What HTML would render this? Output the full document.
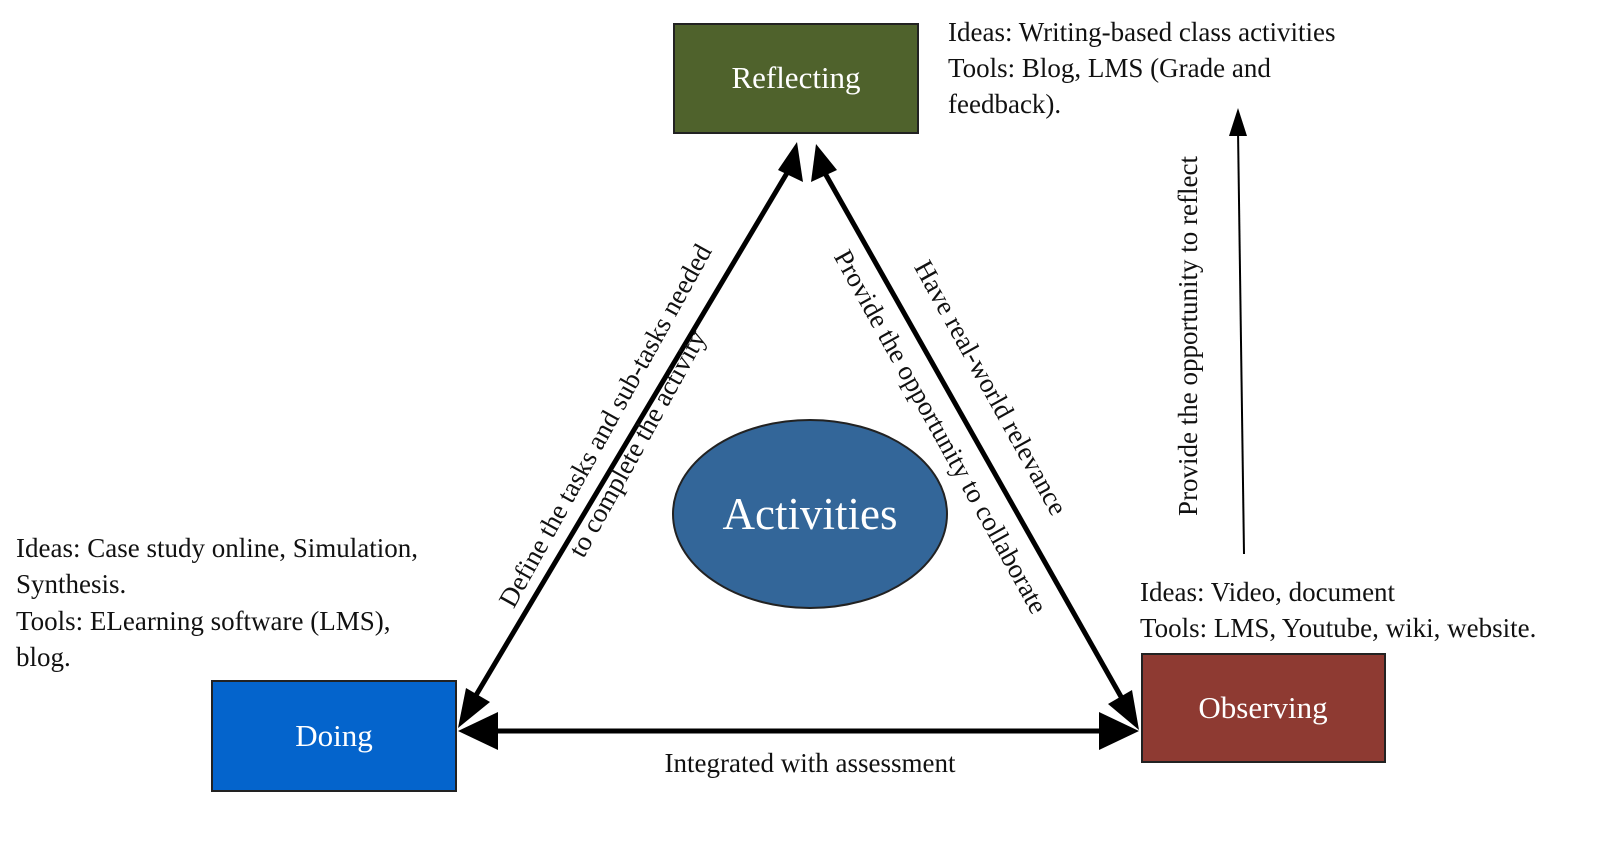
<!DOCTYPE html>
<html><head><meta charset="utf-8"><style>
html,body{margin:0;padding:0;background:#fff;}
svg{display:block;}
text{font-family:"Liberation Serif",serif;fill:#111;}
</style></head><body>
<svg width="1600" height="866" viewBox="0 0 1600 866" xmlns="http://www.w3.org/2000/svg">
<defs>
<marker id="big" markerWidth="10" markerHeight="10" refX="9" refY="5" orient="auto-start-reverse" markerUnits="userSpaceOnUse" viewBox="0 0 10 10">
<path d="M0,0 L10,5 L0,10 z" fill="#000"/></marker>
</defs>
<!-- boxes -->
<rect x="674" y="24" width="244" height="109" fill="#4f622c" stroke="#222" stroke-width="2"/>
<text x="796" y="88" font-size="31" text-anchor="middle" style="fill:#fff">Reflecting</text>
<rect x="212" y="681" width="244" height="110" fill="#0464cc" stroke="#222" stroke-width="2"/>
<text x="334" y="746" font-size="31" text-anchor="middle" style="fill:#fff">Doing</text>
<rect x="1142" y="654" width="243" height="108" fill="#8e3a32" stroke="#222" stroke-width="2"/>
<text x="1263" y="718" font-size="31" text-anchor="middle" style="fill:#fff">Observing</text>
<ellipse cx="810" cy="514" rx="137" ry="94" fill="#336699" stroke="#222" stroke-width="2"/>
<text x="810" y="529" font-size="45" text-anchor="middle" style="fill:#fff">Activities</text>
<!-- thick arrows -->
<g stroke="#000" stroke-width="5" fill="none">
<line x1="790" y1="168" x2="472" y2="702"/>
<line x1="822" y1="168" x2="1124" y2="702"/>
<line x1="490" y1="731" x2="1106" y2="731"/>
</g>
<g fill="#000">
<polygon points="797,142 803,182 778,170"/>
<polygon points="458,728 466,688 490,702"/>
<polygon points="816,144 837,170 811,182"/>
<polygon points="1139,730 1108,704 1132,690"/>
<polygon points="458,731 498,712 498,750"/>
<polygon points="1139,731 1099,712 1099,750"/>
</g>
<!-- thin arrow -->
<line x1="1244" y1="554" x2="1238" y2="130" stroke="#000" stroke-width="2"/>
<polygon points="1238,108 1229,136 1247,136" fill="#000"/>
<!-- texts -->
<g font-size="27">
<text x="948" y="41">Ideas:  Writing-based class activities</text>
<text x="948" y="77">Tools: Blog,   LMS (Grade and</text>
<text x="948" y="113">feedback).</text>
<text x="16" y="557">Ideas: Case study online, Simulation,</text>
<text x="16" y="593">Synthesis.</text>
<text x="16" y="630">Tools: ELearning software (LMS),</text>
<text x="16" y="666">blog.</text>
<text x="1140" y="601">Ideas:  Video, document</text>
<text x="1140" y="637">Tools: LMS, Youtube, wiki, website.</text>
<text x="810" y="772" text-anchor="middle">Integrated with assessment</text>
<text transform="translate(1197,336) rotate(-90)" text-anchor="middle">Provide the opportunity to reflect</text>
<text transform="translate(613,430) rotate(-61)" text-anchor="middle">Define the tasks and sub-tasks needed</text>
<text transform="translate(645,448) rotate(-61)" text-anchor="middle">to complete the activity</text>
<text transform="translate(933,436) rotate(61)" text-anchor="middle">Provide the opportunity to collaborate</text>
<text transform="translate(983,392) rotate(61)" text-anchor="middle">Have real-world relevance</text>
</g>
</svg>
</body></html>
